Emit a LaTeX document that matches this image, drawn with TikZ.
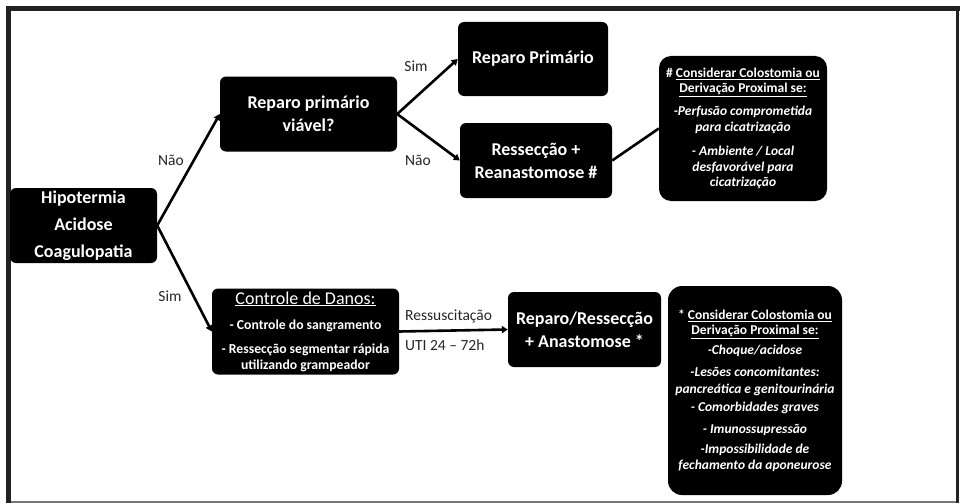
\documentclass[tikz,border=0pt]{standalone}
\usepackage{fontspec}
\setmainfont{Carlito}
\usetikzlibrary{arrows.meta}
\definecolor{labelgray}{HTML}{262626}
\definecolor{framedark}{HTML}{222222}
\definecolor{framegray}{HTML}{777777}
\tikzset{
  box/.style={fill=black, text=white, rounded corners=6pt, inner sep=0pt, align=center,
    font=\fontsize{18}{23}\selectfont\bfseries},
  notebox/.style={fill=black, text=white, rounded corners=14pt, inner sep=0pt, align=center,
    font=\fontsize{13.5}{16}\selectfont\bfseries},
  link/.style={line width=2.6pt, draw=black},
  flow/.style={link, -{Triangle[length=6pt,width=7pt]}},
  lbl/.style={text=labelgray, font=\fontsize{15.5}{18}\selectfont, inner sep=0pt},
}
\begin{document}
\begin{tikzpicture}[x=1pt,y=-1pt]
  % canvas and frame
  \fill[white] (0,0) rectangle (960,503);
  \useasboundingbox (0,0) rectangle (960,503);
  \draw[framegray, line width=2pt] (8,501.5) -- (958,501.5);
  \draw[framedark, line width=3pt] (957.5,6) -- (957.5,503);
  \draw[framedark, line width=5pt] (6,8.5) -- (960,8.5);
  \draw[framedark, line width=5pt] (8.5,6) -- (8.5,503);

  % boxes
  \node[box, minimum width=147pt, minimum height=75pt] (hipo) at (83.5,225.5)
    {Hipotermia\\[4pt]Acidose\\[4pt]Coagulopatia};
  \node[box, minimum width=177pt, minimum height=75pt] (viavel) at (308.5,114)
    {Reparo primário\\viável?};
  \node[box, minimum width=150pt, minimum height=74pt] (primario) at (533,59)
    {Reparo Primário};
  \node[box, minimum width=152pt, minimum height=75pt] (ressec) at (536,160.5)
    {Ressecção +\\Reanastomose \#};
  \node[box, minimum width=187pt, minimum height=86pt,
        font=\fontsize{13.7}{16}\selectfont\bfseries] (danos) at (305.5,331.5)
    {{\fontsize{18}{20}\selectfont\mdseries\underline{Controle de Danos:}}\\[9pt]
     - Controle do sangramento\\[8pt]
     - Ressecção segmentar rápida\\
     utilizando grampeador};
  \node[box, minimum width=153pt, minimum height=75pt] (anast) at (584.5,329.5)
    {Reparo/Ressecção\\+ Anastomose *};

  % side notes
  \node[notebox, rounded corners=12pt, minimum width=168pt, minimum height=145pt] (nota1) at (743,128.5)
    {\# \underline{Considerar Colostomia ou}\\[-1pt]
     \underline{Derivação Proximal se:}\\[7pt]
     \textit{-Perfusão comprometida}\\
     \textit{para cicatrização}\\[8pt]
     \textit{- Ambiente / Local}\\
     \textit{desfavorável para}\\[-1pt]
     \textit{cicatrização}};
  \node[notebox, minimum width=174pt, minimum height=209pt] (nota2) at (755,390.5)
    {* \underline{Considerar Colostomia ou}\\[-1pt]
     \underline{Derivação Proximal se:}\\[4pt]
     \textit{-Choque/acidose}\\[6pt]
     \textit{-Lesões concomitantes:}\\[1pt]
     \textit{pancreática e genitourinária}\\[2pt]
     \textit{- Comorbidades graves}\\[6pt]
     \textit{- Imunossupressão}\\[4pt]
     \textit{-Impossibilidade de}\\
     \textit{fechamento da aponeurose}};

  % connectors
  \draw[flow] (hipo.east) -- (viavel.west);
  \draw[flow] (hipo.east) -- (danos.west);
  \draw[flow] (viavel.east) -- (primario.west);
  \draw[flow] (viavel.east) -- (ressec.west);
  \draw[link] (ressec.east) -- (nota1.west);
  \draw[flow] (danos.east) -- (anast.west);

  % connector labels
  \node[lbl] (nao1) at (171,160) {Não};
  \node[lbl] (sim1) at (170,296) {Sim};
  \node[lbl] (sim2) at (416,66) {Sim};
  \node[lbl] (nao2) at (418,160) {Não};
  \node[lbl, anchor=west] (ressusc) at (405,316) {Ressuscitação};
  \node[lbl, anchor=west] (uti) at (405,345) {UTI 24 -- 72h};
\end{tikzpicture}
\end{document}
